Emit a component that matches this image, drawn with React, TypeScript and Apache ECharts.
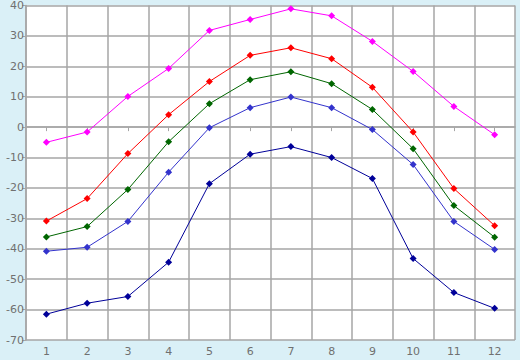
import React, { useEffect, useRef } from "react";
import * as echarts from "echarts";

const months = ["1", "2", "3", "4", "5", "6", "7", "8", "9", "10", "11", "12"];
const seriesMagenta = [-5, -1.6, 10.1, 19.3, 31.8, 35.4, 38.9, 36.6, 28.2, 18.3, 6.8, -2.5];
const seriesRed = [-30.9, -23.5, -8.7, 4.1, 15, 23.6, 26.1, 22.5, 13.1, -1.6, -20.2, -32.4];
const seriesGreen = [-36.1, -32.7, -20.5, -4.8, 7.7, 15.6, 18.2, 14.3, 5.8, -7.1, -25.8, -36.2];
const seriesBlue = [-40.8, -39.5, -31, -14.8, -0.2, 6.4, 9.9, 6.4, -0.8, -12.3, -31, -40.2];
const seriesNavy = [-61.5, -57.9, -55.7, -44.4, -18.6, -8.9, -6.4, -10, -16.9, -43.2, -54.4, -59.6];

const seriesList = [
  { name: "a", data: seriesMagenta, color: "#ff00ff" },
  { name: "b", data: seriesRed, color: "#ff0000" },
  { name: "c", data: seriesGreen, color: "#006600" },
  { name: "d", data: seriesBlue, color: "#3333cc" },
  { name: "e", data: seriesNavy, color: "#000099" },
];

export default function App() {
  const ref = useRef<HTMLDivElement>(null);
  useEffect(() => {
    const chart = echarts.init(ref.current!, null, { renderer: "svg" });
    const labelStyle = { color: "#707070", fontFamily: "DejaVu Sans", fontSize: 11 };
    const gridColor = "#a6a6a6";
    chart.setOption({
      animation: false,
      backgroundColor: "#daf0f7",
      grid: { left: 26, right: 5, top: 5, bottom: 20, show: true, backgroundColor: "#ffffff", borderWidth: 0 },
      xAxis: {
        type: "category",
        data: months,
        boundaryGap: true,
        axisLine: { lineStyle: { color: gridColor, width: 1.5 } },
        axisTick: { show: true, alignWithLabel: true, length: 4, lineStyle: { color: gridColor } },
        axisLabel: { ...labelStyle, margin: 6 },
        splitLine: { show: true, lineStyle: { color: gridColor, width: 1.5 } },
      },
      yAxis: {
        type: "value",
        min: -70,
        max: 40,
        interval: 10,
        axisLine: { show: true, lineStyle: { color: gridColor, width: 1.5 } },
        axisTick: { show: true, length: 4, lineStyle: { color: gridColor } },
        axisLabel: { ...labelStyle, margin: 2 },
        splitLine: { show: true, lineStyle: { color: gridColor, width: 1.5 } },
      },
      series: seriesList.map((s) => ({
        name: s.name,
        type: "line",
        data: s.data,
        symbol: "diamond",
        symbolSize: 7,
        showSymbol: true,
        lineStyle: { color: s.color, width: 1 },
        itemStyle: { color: s.color },
      })),
    });
    return () => chart.dispose();
  }, []);
  return <div ref={ref} style={{ position: "fixed", left: 0, top: 0, width: 520, height: 360 }} />;
}
